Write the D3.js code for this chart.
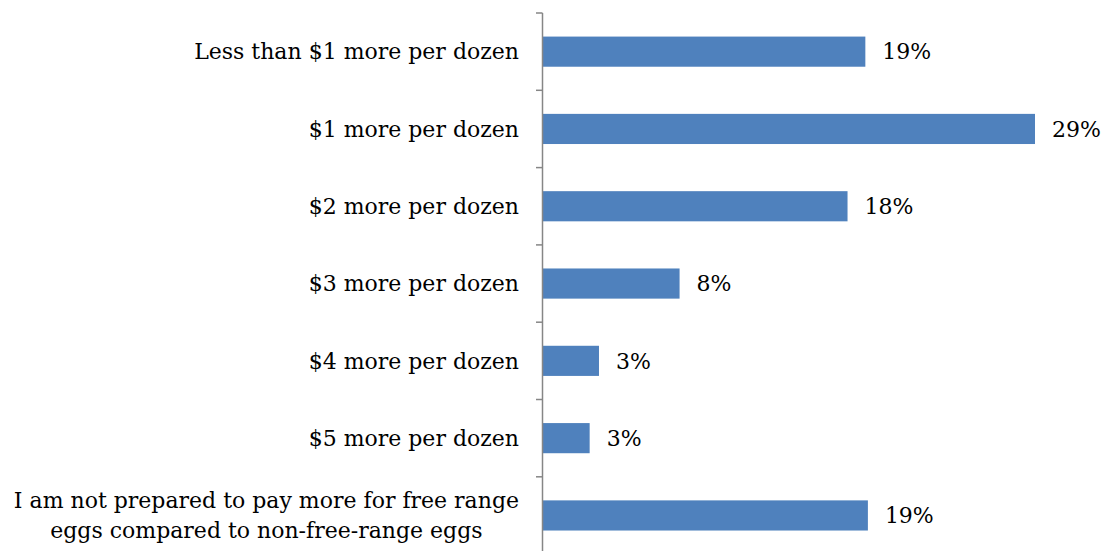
<!DOCTYPE html>
<html>
<head>
<meta charset="utf-8">
<script src="https://cdn.jsdelivr.net/npm/d3@7"></script>
<style>
  html, body { margin: 0; padding: 0; background: #fff; }
  text { font-family: "DejaVu Serif", "Liberation Serif", serif; fill: #000; }
</style>
</head>
<body>
<svg id="chart" width="1108" height="551"></svg>
<script>
// categories (top to bottom) and their shares in percent
const categories = [
  'Less than $1 more per dozen',
  '$1 more per dozen',
  '$2 more per dozen',
  '$3 more per dozen',
  '$4 more per dozen',
  '$5 more per dozen',
  'I am not prepared to pay more for free range|eggs compared to non-free-range eggs'
];
const values = [19.0, 29.0, 17.95, 8.05, 3.3, 2.75, 19.15];
const valueLabels = ['19%', '29%', '18%', '8%', '3%', '3%', '19%'];

const svg = d3.select('#chart');
const axisX = 543;
const fontSize = 22;

const x = d3.scaleLinear()
  .domain([0, 29])
  .range([axisX, 1035]);

const y = d3.scaleBand()
  .domain(d3.range(categories.length))
  .range([13, 13 + 77.3 * categories.length])
  .paddingInner(0.61)
  .paddingOuter(0.305);

// bars
svg.selectAll('rect.bar')
  .data(values)
  .join('rect')
  .attr('class', 'bar')
  .attr('x', x(0))
  .attr('y', (d, i) => y(i))
  .attr('width', d => x(d) - x(0))
  .attr('height', y.bandwidth())
  .attr('fill', '#4f81bd');

// value labels
svg.selectAll('text.val')
  .data(values)
  .join('text')
  .attr('class', 'val')
  .attr('x', d => x(d) + 17)
  .attr('y', (d, i) => y(i) + y.bandwidth() / 2)
  .attr('dy', '0.35em')
  .style('font-size', fontSize + 'px')
  .text((d, i) => valueLabels[i]);

// axis line with ticks between categories
const bounds = d3.range(categories.length + 1).map(i => 13 + i * y.step());
svg.append('line')
  .attr('x1', axisX - 0.5).attr('x2', axisX - 0.5)
  .attr('y1', 13).attr('y2', 551)
  .attr('stroke', '#868686').attr('stroke-width', 1.5);
svg.selectAll('line.tick')
  .data(bounds)
  .join('line')
  .attr('class', 'tick')
  .attr('x1', axisX - 7).attr('x2', axisX - 0.5)
  .attr('y1', d => d).attr('y2', d => d)
  .attr('stroke', '#868686').attr('stroke-width', 1.5);

// category labels
const cat = svg.selectAll('text.cat')
  .data(categories)
  .join('text')
  .attr('class', 'cat')
  .attr('text-anchor', 'end')
  .attr('x', axisX - 24)
  .attr('y', (d, i) => y(i) + y.bandwidth() / 2)
  .style('font-size', fontSize + 'px');

cat.each(function(d) {
  const lines = d.split('|');
  const t = d3.select(this);
  const lh = 30 / fontSize;
  lines.forEach((l, j) => {
    t.append('tspan')
      .attr('x', axisX - 24)
      .attr('dy', j === 0 ? (0.35 - (lines.length - 1) * lh / 2) + 'em' : lh + 'em')
      .attr('text-anchor', lines.length > 1 ? 'middle' : 'end')
      .text(l);
  });
});

// center multi-line label block on its longest line
cat.filter(d => d.includes('|')).each(function() {
  const t = d3.select(this);
  const w = this.getBBox().width;
  t.selectAll('tspan').attr('x', axisX - 24 - w / 2);
});
</script>
</body>
</html>
